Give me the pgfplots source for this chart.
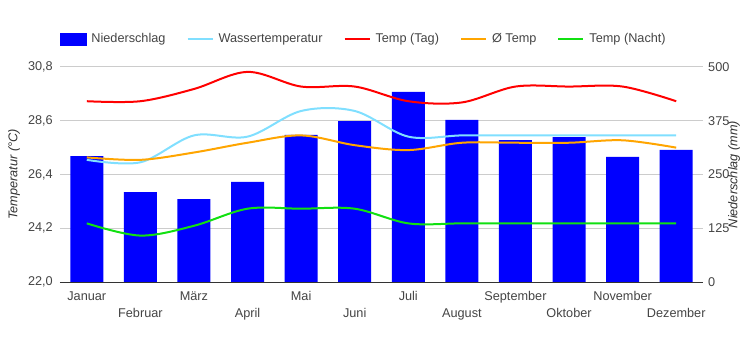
\documentclass[border=0pt]{standalone}
\usepackage{pgfplots}
\pgfplotsset{compat=1.18}
\usepackage{fontspec}
\setmainfont{Liberation Sans}
\definecolor{barblue}{HTML}{0000FF}
\definecolor{water}{HTML}{80DFFF}
\definecolor{daytemp}{HTML}{FF0000}
\definecolor{avgtemp}{HTML}{FFA500}
\definecolor{nighttemp}{HTML}{11E011}
\definecolor{gridc}{HTML}{CCCCCC}
\definecolor{basec}{HTML}{333333}
\definecolor{tickc}{HTML}{444444}
\definecolor{titlec}{HTML}{333333}
\begin{document}
\fontsize{12.7bp}{15bp}\selectfont
\begin{tikzpicture}
\useasboundingbox (-60bp,-68bp) rectangle (690bp,282bp);
\pgfplotsset{
  common/.style={
    at={(0bp,0bp)}, anchor=south west, scale only axis,
    width=643bp, height=215bp, xmin=-0.5, xmax=11.5,
    major tick length=0pt,
    tick label style={inner sep=0pt, text=tickc},
    /pgf/number format/assume math mode=true,
    axis x line*=bottom,
    x axis line style={basec, line width=1bp, -},
    y axis line style={draw=none},
  }
}
% precipitation bars (right axis)
\begin{axis}[common,
  ymin=0, ymax=500, ytick={0,125,250,375,500},
  axis y line*=right,
  ymajorgrids, grid style={gridc, line width=1bp},
  yticklabel style={anchor=west, xshift=5bp},
  xtick={0,2,4,6,8,10},
  xticklabels={Januar,März,Mai,Juli,September,November},
  xticklabel style={anchor=base, yshift=-18.7bp},
  ylabel={Niederschlag (mm)},
  ylabel style={at={(axis description cs:1.0482,0.5)}, anchor=center, rotate=0, font=\itshape, text=titlec},
]
\addplot[ybar, bar width=33bp, fill=barblue, draw=none] coordinates {
 (0,293) (1,209) (2,193) (3,233) (4,342) (5,374)
 (6,442) (7,377) (8,330) (9,337) (10,291) (11,307)};
\end{axis}
% temperature lines (left axis)
\begin{axis}[common,
  ymin=22, ymax=30.8, ytick={22,24.2,26.4,28.6,30.8},
  axis y line*=left,
  yticklabel style={anchor=east, xshift=-7bp,
    /pgf/number format/fixed, /pgf/number format/fixed zerofill,
    /pgf/number format/precision=1, /pgf/number format/use comma},
  xtick={1,3,5,7,9,11},
  xticklabels={Februar,April,Juni,August,Oktober,Dezember},
  xticklabel style={anchor=base, yshift=-35.7bp},
  ylabel={Temperatur (°C)},
  ylabel style={at={(axis description cs:-0.0715,0.5)}, anchor=center, font=\itshape, text=titlec},
  legend image code/.code={\draw[#1, line width=2bp] (0bp,0bp) -- (25bp,0bp);},
  legend style={at={(rel axis cs:0,1)}, anchor=west, yshift=28bp,
    draw=none, fill=none, inner sep=0pt, outer sep=0pt,
    legend columns=-1,
    /tikz/every odd column/.append style={column sep=5bp},
    /tikz/every even column/.append style={column sep=21bp},
    nodes={inner sep=0pt, text=tickc}},
]
\addlegendimage{legend image code/.code={\fill[barblue] (0bp,-6bp) rectangle (26bp,6bp);}}
\addlegendentry{Niederschlag}
\addplot[water, line width=2bp, smooth, tension=0.55] coordinates {
 (0,27.0) (1,26.9) (2,28.0) (3,27.95) (4,29.0) (5,29.0)
 (6,27.95) (7,28.0) (8,28.0) (9,28.0) (10,28.0) (11,28.0)};
\addlegendentry{Wassertemperatur}
\addplot[daytemp, line width=2bp, smooth, tension=0.55] coordinates {
 (0,29.4) (1,29.4) (2,29.9) (3,30.6) (4,30.0) (5,30.0)
 (6,29.4) (7,29.35) (8,30.0) (9,30.0) (10,30.0) (11,29.4)};
\addlegendentry{Temp (Tag)}
\addplot[avgtemp, line width=2bp, smooth, tension=0.55] coordinates {
 (0,27.1) (1,27.0) (2,27.3) (3,27.7) (4,28.0) (5,27.6)
 (6,27.4) (7,27.7) (8,27.7) (9,27.7) (10,27.8) (11,27.5)};
\addlegendentry{Ø Temp}
\addplot[nighttemp, line width=2bp, smooth, tension=0.55] coordinates {
 (0,24.4) (1,23.9) (2,24.3) (3,25.0) (4,25.0) (5,25.0)
 (6,24.4) (7,24.4) (8,24.4) (9,24.4) (10,24.4) (11,24.4)};
\addlegendentry{Temp (Nacht)}
\end{axis}
\end{tikzpicture}
\end{document}
